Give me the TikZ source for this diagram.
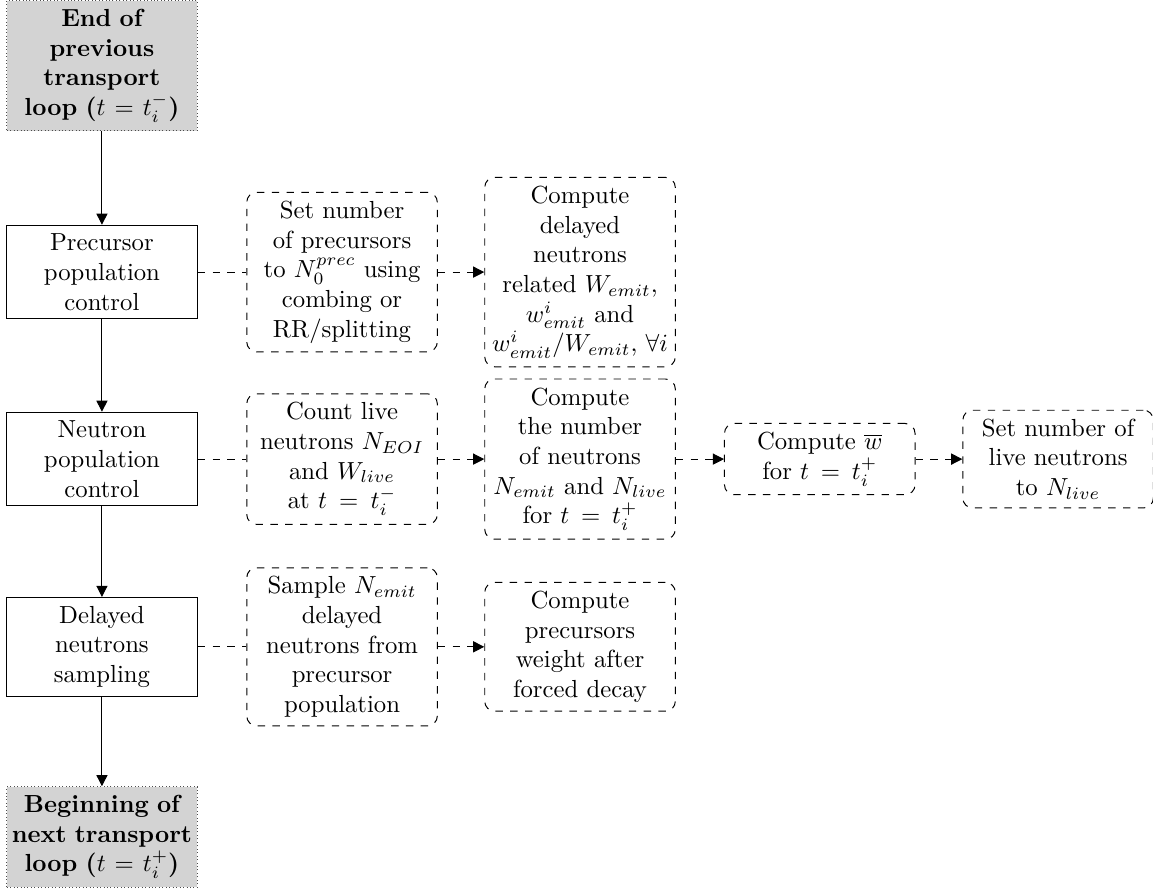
\documentclass[tikz,border=0pt]{standalone}
\usepackage{amsmath, amssymb}
\usepackage{tikz}
\usetikzlibrary{arrows.meta}
\usepackage{xcolor}
\definecolor{loopGray}{HTML}{D3D3D3}

\begin{document}
\begin{tikzpicture}[
    every node/.style={inner xsep=1pt, inner ysep=3.5pt},
    stagebox/.style={draw, text width=2.64cm, align=center},
    loopbox/.style={draw=black!70, densely dotted, fill=loopGray,
                    text width=2.64cm, align=center, font=\bfseries},
    taskbox/.style={draw, dashed, rounded corners, text width=2.64cm, align=center},
    flow/.style={-{Triangle[width=4.5pt,length=4.5pt]}},
    link/.style={dashed},
    linkarrow/.style={dashed, -{Triangle[width=4.5pt,length=4.5pt]}}]
    \useasboundingbox (0,0) rectangle (16.4,-12.63);

    \node[loopbox, anchor=north] (start) at (1.45,0)
      {End of\\ previous\\ transport\\ loop ($t=t_i^-$)};
    \node[stagebox] (prec) at (1.45,-3.87) {Precursor\\ population\\ control};
    \node[stagebox] (neut) at (1.45,-6.53) {Neutron\\ population\\ control};
    \node[stagebox] (delay) at (1.45,-9.2) {Delayed\\ neutrons\\ sampling};
    \node[loopbox, anchor=south] (finish) at (1.45,-12.63)
      {Beginning of\\ next transport\\ loop ($t=t_i^+$)};

    \node[taskbox] (setprec) at (4.865,-3.87)
      {Set number\\ of precursors\\ to $N_0^{prec}$ using\\ combing or\\ RR/splitting};
    \node[taskbox] (cmpdel) at (8.25,-3.87)
      {Compute\\ delayed\\ neutrons\\ related $W_{emit}$,\\ $w^i_{emit}$ and\\ $w^i_{emit}/W_{emit}$, $\forall i$};

    \node[taskbox] (cntlive) at (4.865,-6.53)
      {Count live\\ neutrons $N_{EOI}$\\ and $W_{live}$\\ at $t = t_i^-$};
    \node[taskbox] (cmpnum) at (8.25,-6.53)
      {Compute\\ the number\\ of neutrons\\ $N_{emit}$ and $N_{live}$\\ for $t = t_i^+$};
    \node[taskbox] (cmpw) at (11.66,-6.53) {Compute $\overline{w}$\\ for $t = t_i^+$};
    \node[taskbox] (setlive) at (15.05,-6.53) {Set number of\\ live neutrons\\ to $N_{live}$};

    \node[taskbox] (sample) at (4.865,-9.2)
      {Sample $N_{emit}$\\ delayed\\ neutrons from\\ precursor\\ population};
    \node[taskbox] (cmpwgt) at (8.25,-9.2)
      {Compute\\ precursors\\ weight after\\ forced decay};

    \foreach \a/\b in {start/prec, prec/neut, neut/delay, delay/finish}
      \draw[flow] (\a) -- (\b);
    \foreach \a/\b in {prec/setprec, neut/cntlive, delay/sample}
      \draw[link] (\a) -- (\b);
    \foreach \a/\b in {setprec/cmpdel, cntlive/cmpnum, cmpnum/cmpw, cmpw/setlive, sample/cmpwgt}
      \draw[linkarrow] (\a) -- (\b);
\end{tikzpicture}
\end{document}
